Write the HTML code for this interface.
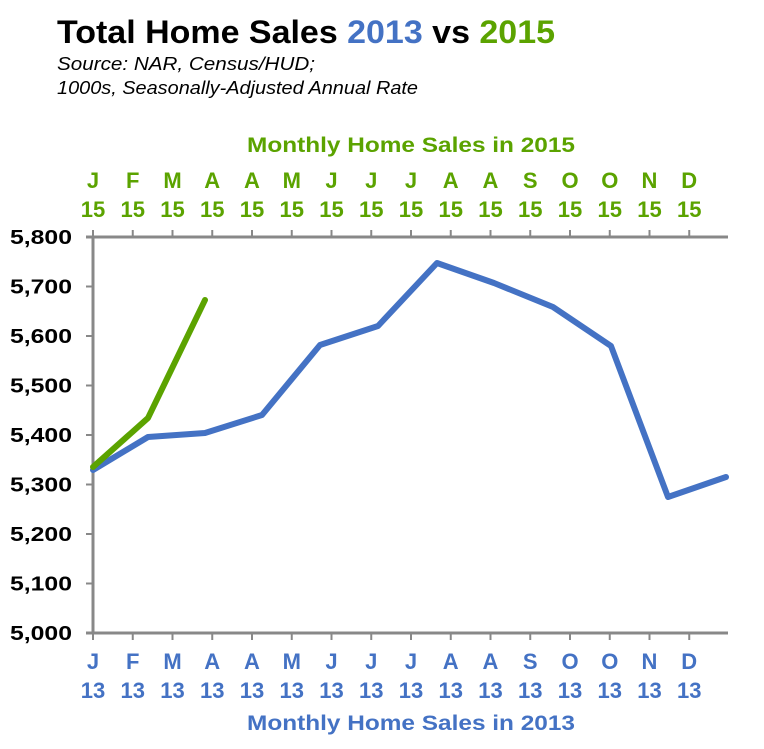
<!DOCTYPE html>
<html><head><meta charset="utf-8"><style>
body{margin:0;background:#fff;width:764px;height:744px;overflow:hidden}
svg text{font-family:"Liberation Sans",Arial,sans-serif}
</style></head><body>
<svg width="764" height="744" viewBox="0 0 764 744">
<text x="57" y="43" font-size="32" font-weight="bold" fill="#000" textLength="498" lengthAdjust="spacingAndGlyphs">Total Home Sales <tspan fill="#4472c4">2013</tspan> vs <tspan fill="#5ba300">2015</tspan></text>
<text x="57" y="70" font-size="18" font-style="italic" textLength="258" lengthAdjust="spacingAndGlyphs">Source: NAR, Census/HUD;</text>
<text x="57" y="94" font-size="18" font-style="italic" textLength="361" lengthAdjust="spacingAndGlyphs">1000s, Seasonally-Adjusted Annual Rate</text>
<text x="247" y="152" font-size="21" font-weight="bold" fill="#5ba300" textLength="328" lengthAdjust="spacingAndGlyphs">Monthly Home Sales in 2015</text>
<text x="247" y="730" font-size="21" font-weight="bold" fill="#4472c4" textLength="328" lengthAdjust="spacingAndGlyphs">Monthly Home Sales in 2013</text>
<g stroke="#888" stroke-width="3" fill="none">
<line x1="86" y1="237" x2="728" y2="237"/>
<line x1="86" y1="633" x2="728" y2="633"/>
<line x1="93" y1="237" x2="93" y2="633"/>
</g>
<g stroke="#888" stroke-width="2" id="ticks"></g>
<g font-size="20" font-weight="bold" id="yl"></g>
<g font-size="22" font-weight="bold" fill="#5ba300" text-anchor="middle" id="tl"></g>
<g font-size="22" font-weight="bold" fill="#4472c4" text-anchor="middle" id="bl"></g>
<polyline fill="none" stroke="#4472c4" stroke-width="6" stroke-linejoin="round" stroke-linecap="round" points="93,470 148,437 205,433 262,415 320,345 378,326 437,263 494,283 553,307 611,346 668,497 726,477"/>
<polyline fill="none" stroke="#5ba300" stroke-width="6" stroke-linejoin="round" stroke-linecap="round" points="93,467 148,418 205,300"/>
</svg>
<script>
var ns="http://www.w3.org/2000/svg";
function el(p,t,a,txt){var e=document.createElementNS(ns,t);for(var k in a)e.setAttribute(k,a[k]);if(txt)e.textContent=txt;document.getElementById(p).appendChild(e);}
var m="JFMAAMJJJAASOOND";
for(var i=0;i<16;i++){var x=93+i*39.75;
el("ticks","line",{x1:x,y1:237,x2:x,y2:230});el("ticks","line",{x1:x,y1:633,x2:x,y2:640});
el("tl","text",{x:x,y:188},m[i]);el("tl","text",{x:x,y:217},"15");
el("bl","text",{x:x,y:669},m[i]);el("bl","text",{x:x,y:698},"13");}
for(var j=0;j<=8;j++){var y=633-j*49.5;el("ticks","line",{x1:86,y1:y,x2:93,y2:y});
el("yl","text",{x:10,y:y+7,textLength:62,lengthAdjust:"spacingAndGlyphs"},(5000+j*100).toLocaleString("en-US"));}
</script>
</body></html>
